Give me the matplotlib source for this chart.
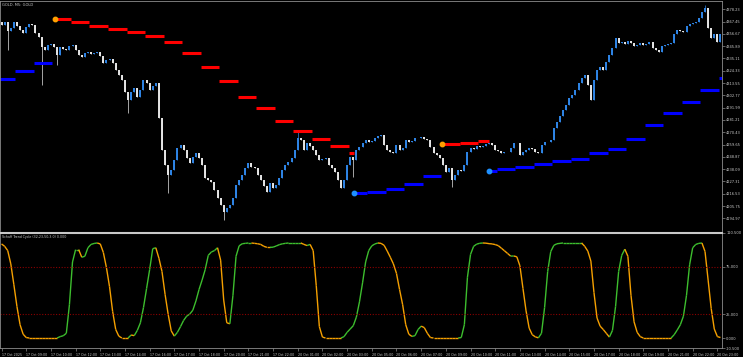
import numpy as np
import matplotlib
matplotlib.use('Agg')
import matplotlib.pyplot as plt
from matplotlib.collections import LineCollection

# Fechamentos estimados do GOLD (uma barra = 10 min)
fechamentos = [
    4364.5, 4367.1, 4359.2, 4361.9, 4367.1, 4363.6, 4360.1, 4357.5, 4362.7, 4365.4,
    4364.5, 4357.5, 4354.0, 4345.2, 4342.6, 4347.0, 4347.8, 4345.2, 4338.2, 4345.2,
    4343.5, 4342.6, 4346.1, 4347.0, 4342.6, 4338.2, 4336.4, 4340.0, 4340.8, 4339.1,
    4340.0, 4340.8, 4337.3, 4331.2, 4333.8, 4334.7, 4331.2, 4325.1, 4320.7, 4316.3,
    4305.8, 4298.8, 4305.8, 4309.3, 4301.4, 4307.5, 4316.3, 4313.7, 4307.5, 4311.0,
    4313.7, 4283.0, 4254.9, 4241.8, 4233.0, 4237.4, 4246.2, 4256.7, 4259.3, 4254.9,
    4247.9, 4243.5, 4248.8, 4252.3, 4247.9, 4241.8, 4230.4, 4228.6, 4226.9, 4219.9,
    4212.9, 4206.7, 4200.6, 4204.1, 4206.7, 4212.9, 4224.3, 4228.6, 4233.0, 4239.2,
    4243.5, 4240.0, 4239.2, 4233.0, 4228.6, 4223.4, 4218.1, 4226.0, 4221.6, 4224.3,
    4230.4, 4237.4, 4241.8, 4244.4, 4247.9, 4254.9, 4265.5, 4263.7, 4254.9, 4261.1,
    4258.4, 4254.9, 4250.6, 4246.2, 4247.0, 4247.9, 4241.8, 4239.2, 4235.7, 4228.6,
    4221.6, 4228.6, 4241.8, 4248.8, 4246.2, 4254.9, 4257.6, 4261.1, 4263.7, 4262.0,
    4262.4, 4265.5, 4267.2, 4268.1, 4259.3, 4254.9, 4253.2, 4252.3, 4259.3, 4254.9,
    4256.7, 4263.7, 4262.0, 4262.8, 4265.5, 4265.1, 4266.3, 4264.6, 4263.7, 4257.6,
    4252.3, 4250.6, 4247.9, 4241.8, 4235.7, 4239.2, 4228.6, 4233.0, 4237.4, 4236.5,
    4241.8, 4253.2, 4256.7, 4256.2, 4258.4, 4257.6, 4258.0, 4260.2, 4261.1, 4259.3,
    4254.9, 4254.1, 4252.3, 4252.8, 4253.2, 4256.7, 4261.1, 4260.6, 4250.6, 4253.2,
    4254.9, 4256.7, 4255.8, 4253.2, 4252.3, 4259.3, 4262.0, 4261.5, 4263.7, 4274.2,
    4279.5, 4284.7, 4290.0, 4294.4, 4300.5, 4303.1, 4307.5, 4313.7, 4318.0, 4320.7,
    4311.9, 4298.8, 4316.3, 4325.1, 4327.7, 4324.6, 4332.1, 4338.2, 4344.3, 4353.1,
    4348.7, 4349.6, 4347.8, 4350.5, 4349.0, 4346.1, 4347.0, 4348.7, 4346.6, 4347.8,
    4349.6, 4344.3, 4342.6, 4340.8, 4346.1, 4347.0, 4347.8, 4348.7, 4356.6, 4360.1,
    4359.2, 4358.4, 4363.6, 4365.4, 4366.2, 4367.1, 4370.6, 4375.9, 4379.4, 4361.9,
    4353.1, 4356.6, 4349.6, 4356.6,
]
abertura_inicial = 4367.0

# Pavios marcantes (barra -> preço)
pavios_minima = {2: 4342.6, 13: 4311.9, 18: 4329.4, 41: 4287.4, 54: 4217.3,
                 72: 4193.6, 114: 4231.3, 146: 4222.5}
pavios_maxima = {96: 4272.5, 228: 4382.0}

# Níveis da tendência em blocos de 6 barras (nan = inativo)
nan = np.nan
nivel_azul = [
    4317.4, 4324.4, 4330.9, nan, nan, nan, nan, nan, nan, nan,
    nan, nan, nan, nan, nan, nan, nan, nan, nan, 4217.3,
    4218.1, 4220.8, 4225.1, 4232.1, nan, nan, 4236.8, 4238.3, 4240.0, 4242.9,
    4245.6, 4247.3, 4252.3, 4255.6, 4264.8, 4277.1, 4287.4, 4297.0, 4307.5, 4318.0,
]
nivel_vermelho = [
    nan, nan, nan, 4370.0, 4367.1, 4363.9, 4361.0, 4358.1, 4355.1, 4349.9,
    4339.7, 4327.9, 4315.4, 4301.4, 4291.8, 4280.4, 4271.6, 4264.8, 4258.7, 4252.3,
    nan, nan, nan, nan, 4260.2, 4261.3, 4262.6, nan, nan, nan,
    nan, nan, nan, nan, nan, nan, nan, nan, nan, nan,
]
# Pontos de virada da tendência
viradas_barra = [17.3, 114.1, 142.9, 158.1]
viradas_tipo = ['baixa', 'alta', 'baixa', 'alta']

# Schaff Trend Cycle por barra
stc_valores = [
    99, 96.5, 92, 78, 56, 33, 14, 4, 0.5,
    0, 0, 0, 0, 0, 0, 0, 0, 0, 0,
    1.5, 2.4, 5,
    35, 80, 93, 93, 85, 86, 95, 98.5, 99.5, 100, 99,
    90, 74, 54, 28, 9, 2, 0, 0, 0,
    3.2, 2.5, 8, 16, 32, 52, 72, 94,
    95, 84, 70, 46, 25, 7.5, 2,
    6, 12, 18.5, 23, 25.2, 29.3, 39, 51, 61, 72, 87, 90.5, 92, 95,
    82, 40, 16, 15, 45, 86, 97,
    99.2, 99.6, 100, 100, 99.6, 99.2, 98.5, 96.5, 95.4, 95.4, 95.6, 96.8, 98.2, 99.1, 99.6, 100,
    100, 100, 100, 100,
    98.5, 97.3, 98.5, 92, 55, 12, 1,
    0, 0, 0, 0, 0, 0,
    1.5, 6, 9.5, 13, 22, 38, 58, 80, 92, 97, 99, 100,
    99.6, 97.5, 91.5, 85, 78, 68, 51, 35, 14, 4, 1.7, 2.5,
    9, 12.5, 11, 5, 0.5,
    0, 0, 0, 0, 0, 0, 0, 0, 0,
    0.5, 14, 64, 88, 96.5, 98.8, 99.7, 100, 99.8, 99.3, 99, 98.3, 97.2,
    94.5, 91.8, 89, 86.2, 86.3, 85.5, 76, 52, 28.5, 10.4, 3.5, 1.2, 0.2,
    5, 32, 70, 91, 97.5, 99.2, 99.6,
    100, 100, 100, 100, 100, 100, 100,
    96.5, 91.5, 81, 48, 21, 12.5, 9, 5, 1,
    8, 33, 70, 87, 93.5, 86, 45, 17, 6, 1.5,
    0, 0, 0, 0, 0, 0, 0, 0, 0, 0,
    3.5, 8.5, 14, 23, 45, 77, 95, 98.5, 99.6, 100, 91, 61, 31, 9.5, 1.5, 0.5,
]

# Eixos
precos_eixo = [4378.23, 4367.45, 4356.67, 4345.89, 4335.11, 4324.33, 4313.55, 4302.77,
               4291.99, 4281.21, 4270.43, 4259.65, 4248.87, 4238.09, 4227.31, 4216.53,
               4205.75, 4194.97]
stc_eixo = [110.5, 75.0, 25.0, 0.0, -10.5]
rotulos_tempo = [
    "17 Oct 2025", "17 Oct 09:00", "17 Oct 10:00", "17 Oct 12:00", "17 Oct 13:00",
    "17 Oct 14:00", "17 Oct 16:00", "17 Oct 17:00", "17 Oct 18:00", "17 Oct 20:00",
    "17 Oct 21:00", "17 Oct 22:00", "20 Oct 01:00", "20 Oct 02:00", "20 Oct 03:00",
    "20 Oct 05:00", "20 Oct 06:00", "20 Oct 07:00", "20 Oct 09:00", "20 Oct 10:00",
    "20 Oct 11:00", "20 Oct 13:00", "20 Oct 14:00", "20 Oct 15:00", "20 Oct 17:00",
    "20 Oct 18:00", "20 Oct 19:00", "20 Oct 21:00", "20 Oct 22:00", "20 Oct 23:00",
]

COR_TEXTO = '#C8C8C8'
COR_BORDA = '#8C8C8C'
COR_ALTA = '#2F86E8'
COR_BAIXA = '#E6E6E6'
TAM_BLOCO = 6


def desenhar_candles(ax):
    """Corpos e pavios dos candles"""
    fech = np.array(fechamentos)
    aber = np.concatenate([[abertura_inicial], fech[:-1]])
    barras = np.arange(len(fech))
    topo = np.maximum(aber, fech)
    base = np.minimum(aber, fech)
    maxima, minima = topo.copy(), base.copy()
    for i, v in pavios_minima.items():
        minima[i] = v
    for i, v in pavios_maxima.items():
        maxima[i] = v
    cores = np.where(fech >= aber, COR_ALTA, COR_BAIXA)
    ax.vlines(barras, minima, maxima, colors=cores, linewidth=0.5)
    ax.vlines(barras, base, topo, colors=cores, linewidth=1.4)


def desenhar_niveis(ax):
    """Degraus da tendência (azul = alta, vermelho = baixa) e pontos de virada"""
    for k in range(len(nivel_azul)):
        ini = k * TAM_BLOCO - 1.5
        fim = ini + TAM_BLOCO
        for niveis, cor, comeca_em in ((nivel_azul, '#0000FF', 'alta'),
                                       (nivel_vermelho, '#FF0000', 'baixa')):
            if np.isnan(niveis[k]):
                continue
            a, b = ini, fim
            for t, tipo in zip(viradas_barra, viradas_tipo):
                if ini < t < fim:
                    if tipo == comeca_em:
                        a = t
                    else:
                        b = t
            ax.plot([a, b], [niveis[k], niveis[k]], color=cor, linewidth=2.2,
                    solid_capstyle='butt')

    for t, tipo in zip(viradas_barra, viradas_tipo):
        k = int((t + 1.5) // TAM_BLOCO)
        if tipo == 'alta':
            ax.plot(t, nivel_azul[k], 'o', color='#1E90FF', markersize=3.2)
        else:
            ax.plot(t, nivel_vermelho[k], 'o', color='#FFA000', markersize=3.2)


def desenhar_stc(ax):
    """Linha do STC colorida pela direção"""
    v = np.array(stc_valores, dtype=float)
    x = np.arange(len(v))
    cores = []
    subindo = False
    for i in range(1, len(v)):
        if v[i] > v[i - 1]:
            subindo = True
        elif v[i] < v[i - 1]:
            subindo = False
        cores.append('#3DBE2E' if subindo else '#F5A000')
    pts = np.column_stack([x, v]).reshape(-1, 1, 2)
    segs = np.concatenate([pts[:-1], pts[1:]], axis=1)
    ax.add_collection(LineCollection(segs, colors=cores, linewidth=1.0))
    for nivel in (75, 25):
        ax.axhline(nivel, color='#8B0000', linestyle=(0, (1, 1.5)), linewidth=0.8)


def estilizar(ax, topo_cor=COR_BORDA, topo_lw=0.6):
    ax.set_facecolor('black')
    ax.set_xlim(-0.5, len(fechamentos) - 0.5)
    for lado in ('left', 'right', 'bottom'):
        ax.spines[lado].set_color(COR_BORDA)
        ax.spines[lado].set_linewidth(0.6)
    ax.spines['top'].set_color(topo_cor)
    ax.spines['top'].set_linewidth(topo_lw)
    ax.yaxis.tick_right()
    ax.tick_params(axis='y', direction='out', length=2, width=0.5, color=COR_BORDA,
                   labelsize=2.6, labelcolor=COR_TEXTO, pad=1)


fig = plt.figure(figsize=(7.43, 3.57), dpi=100, facecolor='black')
larg = 722 / 743

# Painel de preço
ax1 = fig.add_axes([0, 126 / 357, larg, 230 / 357])
estilizar(ax1)
desenhar_candles(ax1)
desenhar_niveis(ax1)
ax1.set_ylim(4183.9, 4385.5)
ax1.set_yticks(precos_eixo)
ax1.set_yticklabels([f"{p:.2f}" for p in precos_eixo])
ax1.set_xticks([])
ax1.spines['bottom'].set_visible(False)
ax1.text(0.003, 0.993, "GOLD, M5: GOLD", transform=ax1.transAxes, va='top', ha='left',
         fontsize=2.6, color=COR_TEXTO)

# Painel do indicador
ax2 = fig.add_axes([0, 9 / 357, larg, 115 / 357])
estilizar(ax2, topo_cor='#C8C8C8', topo_lw=1.5)
desenhar_stc(ax2)
ax2.set_ylim(-10.5, 110.5)
ax2.set_yticks(stc_eixo)
ax2.set_yticklabels([f"{s:.3f}" for s in stc_eixo])
ax2.set_xticks(np.arange(0, 8 * len(rotulos_tempo), 8))
ax2.set_xticklabels(rotulos_tempo)
ax2.tick_params(axis='x', direction='out', length=2.5, width=0.5, color=COR_BORDA,
                labelsize=2.3, labelcolor=COR_TEXTO, pad=1)
for rotulo in ax2.get_xticklabels():
    rotulo.set_horizontalalignment('left')
ax2.text(0.003, 0.985, "Schaff Trend Cycle (32,23,50,3.0) 0.000", transform=ax2.transAxes,
         va='top', ha='left', fontsize=2.3, color=COR_TEXTO)

plt.savefig('out.png', dpi=100, facecolor='black')
plt.close()
